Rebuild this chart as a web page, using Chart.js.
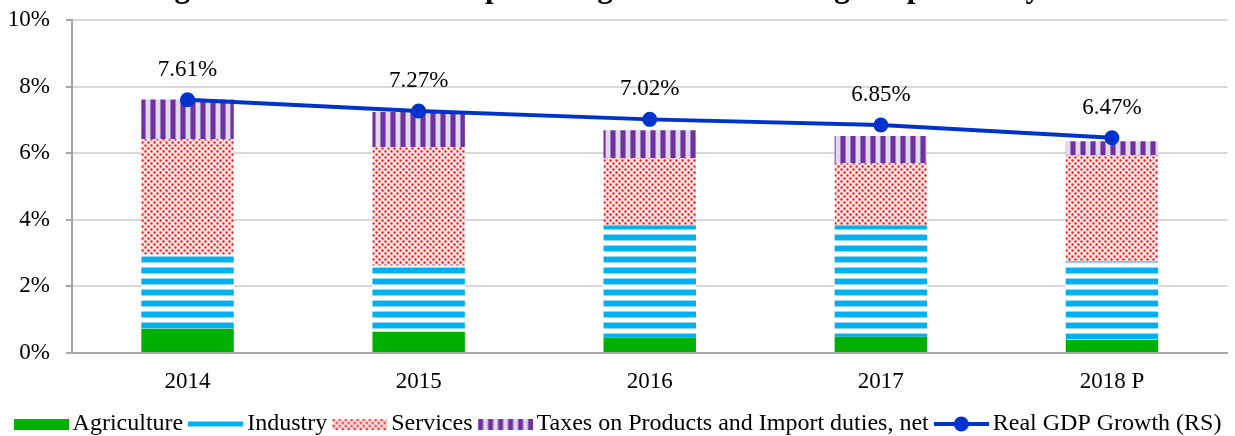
<!DOCTYPE html>
<html>
<head>
<meta charset="utf-8">
<script src="https://cdn.jsdelivr.net/npm/chart.js@4.4.1/dist/chart.umd.min.js"></script>
<style>
  html, body { margin: 0; padding: 0; background: #fff; overflow: hidden; }
  #wrap { position: absolute; left: 0; top: -30px; width: 1235px; height: 476px; }
</style>
</head>
<body>
<div id="wrap"><canvas id="c" width="1235" height="476"></canvas></div>
<script>
const categories = ['2014', '2015', '2016', '2017', '2018 P'];
const agriculture = [0.73, 0.64, 0.46, 0.49, 0.39];
const industry = [2.22, 1.98, 3.37, 3.34, 2.36];
const services = [3.47, 3.56, 2.02, 1.87, 3.20];
const taxes = [1.20, 1.06, 0.84, 0.82, 0.41];
const gdpGrowth = [7.61, 7.27, 7.02, 6.85, 6.47];
const yTicks = [0, 2, 4, 6, 8, 10];
const titleText = 'Figure 1: Gross domestic product growth rate during the past five years';

const FONT = 'Liberation Serif';
const GREEN = '#00B000';
const BLUE = '#00B0F0';
const LIGHTBLUE = '#8FD8F6';
const PURPLE = '#7030A0';
const LAVENDER = '#E2D8EE';
const LINE = '#0033CC';

function mk(w, h) { const c = document.createElement('canvas'); c.width = w; c.height = h; return c; }

function industryTile() {
  const c = mk(8, 11), g = c.getContext('2d');
  g.fillStyle = '#fff'; g.fillRect(0, 0, 8, 11);
  g.fillStyle = LIGHTBLUE; g.fillRect(0, 0, 8, 1); g.fillRect(0, 6, 8, 1);
  g.fillStyle = BLUE; g.fillRect(0, 1, 8, 5);
  return c;
}
function servicesTile() {
  const c = mk(6, 6), g = c.getContext('2d');
  g.fillStyle = '#FDE4E4'; g.fillRect(0, 0, 6, 6);
  [[1, 1], [4, 4]].forEach(([x, y]) => {
    g.fillStyle = '#F9B0B0';
    g.fillRect(x - 1, y - 1, 3, 3);
    g.fillStyle = '#F56666';
    g.fillRect(x - 1, y, 3, 1); g.fillRect(x, y - 1, 1, 3);
    g.fillStyle = '#FF0000';
    g.fillRect(x, y, 1, 1);
  });
  return c;
}
function taxesTile() {
  const c = mk(10, 8), g = c.getContext('2d');
  g.fillStyle = LAVENDER; g.fillRect(0, 0, 10, 8);
  g.fillStyle = '#A07CC4'; g.fillRect(0, 0, 1, 8); g.fillRect(5, 0, 1, 8);
  g.fillStyle = PURPLE; g.fillRect(1, 0, 4, 8);
  return c;
}
const ctx = document.getElementById('c').getContext('2d');
const industryPat = ctx.createPattern(industryTile(), 'repeat');
const servicesPat = ctx.createPattern(servicesTile(), 'repeat');
const taxesPat = ctx.createPattern(taxesTile(), 'repeat');

function iconRect(fill) {
  const c = mk(55, 11), g = c.getContext('2d');
  g.fillStyle = fill; g.fillRect(0, 0, 55, 11); return c;
}
function iconPattern(tile) {
  const c = mk(55, 11), g = c.getContext('2d');
  g.fillStyle = g.createPattern(tile, 'repeat'); g.fillRect(0, 0, 55, 11); return c;
}
function iconIndustry() {
  const c = mk(55, 6), g = c.getContext('2d');
  g.fillStyle = LIGHTBLUE; g.fillRect(0, 0, 55, 6);
  g.fillStyle = BLUE; g.fillRect(0, 1, 55, 4); return c;
}
function iconLine() {
  const c = mk(55, 16), g = c.getContext('2d');
  g.strokeStyle = LINE; g.lineWidth = 4;
  g.beginPath(); g.moveTo(0, 8); g.lineTo(55, 8); g.stroke();
  g.fillStyle = LINE; g.beginPath(); g.arc(27.5, 8, 7.5, 0, Math.PI * 2); g.fill();
  return c;
}
const legendIcons = [iconRect(GREEN), iconIndustry(), iconPattern(servicesTile()), iconPattern(taxesTile()), iconLine()];

const labelPlugin = {
  id: 'pointLabels',
  afterDatasetsDraw(chart) {
    const idx = chart.data.datasets.findIndex(d => d.type === 'line');
    const meta = chart.getDatasetMeta(idx);
    const c = chart.ctx;
    c.save();
    c.font = '23px "' + FONT + '"';
    c.fillStyle = '#000';
    c.textAlign = 'center';
    c.textBaseline = 'middle';
    meta.data.forEach((pt, i) => {
      c.fillText(gdpGrowth[i].toFixed(2) + '%', pt.x, pt.y - 30);
    });
    c.restore();
  }
};

Chart.defaults.color = '#000';
Chart.defaults.font.family = FONT;

new Chart(ctx, {
  type: 'bar',
  data: {
    labels: categories,
    datasets: [
      { label: 'Agriculture', data: agriculture, backgroundColor: GREEN, stack: 'bars', order: 1 },
      { label: 'Industry', data: industry, backgroundColor: industryPat, stack: 'bars', order: 1 },
      { label: 'Services', data: services, backgroundColor: servicesPat, stack: 'bars', order: 1 },
      { label: 'Taxes on Products and Import duties, net', data: taxes, backgroundColor: taxesPat, stack: 'bars', order: 1 },
      { type: 'line', label: 'Real GDP Growth (RS)', data: gdpGrowth, borderColor: LINE, backgroundColor: LINE,
        borderWidth: 4, pointRadius: 7.5, pointBackgroundColor: LINE, pointBorderWidth: 0, stack: 'gdp', order: 0, tension: 0 }
    ]
  },
  options: {
    responsive: false,
    animation: false,
    devicePixelRatio: 1,
    datasets: { bar: { barPercentage: 0.4, categoryPercentage: 1.0, borderWidth: 0 } },
    layout: { padding: { left: 8, right: 0, top: 0, bottom: 0 } },
    plugins: {
      tooltip: { enabled: false },
      title: {
        display: true, text: titleText, color: '#000',
        font: { family: FONT, size: 31, weight: 'bold' },
        padding: { top: 0, bottom: 13 }
      },
      legend: {
        position: 'bottom',
        labels: {
          usePointStyle: true,
          pointStyleWidth: 39,
          boxHeight: 16,
          padding: 13,
          color: '#000',
          font: { family: FONT, size: 24 },
          generateLabels(chart) {
            return chart.data.datasets.map((d, i) => ({
              text: d.label, fillStyle: 'transparent', strokeStyle: 'transparent', lineWidth: 0,
              pointStyle: legendIcons[i], hidden: false, datasetIndex: i, fontColor: '#000'
            }));
          }
        }
      }
    },
    scales: {
      x: {
        stacked: true,
        grid: { display: false },
        border: { display: true, color: '#A6A6A6', width: 2 },
        ticks: { font: { family: FONT, size: 23 }, padding: 7, color: '#000' },
        afterFit(scale) { scale.height = 46; }
      },
      y: {
        stacked: true,
        min: yTicks[0], max: yTicks[yTicks.length - 1],
        afterBuildTicks(scale) { scale.ticks = yTicks.map(v => ({ value: v })); },
        ticks: { font: { family: FONT, size: 23 }, padding: 16, color: '#000', callback: v => v + '%' },
        grid: { color: '#D9D9D9', lineWidth: 2, tickLength: 6, tickColor: '#A6A6A6', drawTicks: true },
        border: { display: true, color: '#A6A6A6', width: 2 },
        afterFit(scale) { scale.width = 64; }
      }
    }
  },
  plugins: [labelPlugin]
});
</script>
</body>
</html>
